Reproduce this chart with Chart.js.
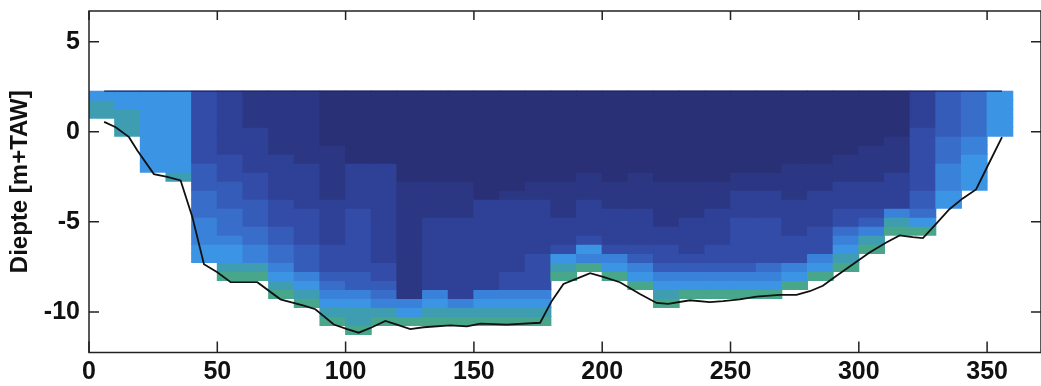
<!DOCTYPE html>
<html>
<head>
<meta charset="utf-8">
<script src="https://cdn.jsdelivr.net/npm/chart.js@4"></script>
<style>
  html, body { margin: 0; padding: 0; background: #fff; }
</style>
</head>
<body>
<canvas id="profile" width="1041" height="386"></canvas>
<script>
// midden van elke meetverticaal (afstand langs raai, m)
const verticalX = [5, 15, 25, 35, 45, 55, 65, 75, 85, 95, 105, 115, 125, 135, 145, 155, 165, 175,
  185, 195, 205, 215, 225, 235, 245, 255, 265, 275, 285, 295, 305, 315, 325, 335, 345, 355];

// grenzen van de dieptecellen (m+TAW)
const binEdges = [2.25, 1.75, 1.25, 0.75, 0.25, -0.25, -0.75, -1.25, -1.75, -2.25, -2.75, -3.25, -3.75,
  -4.25, -4.75, -5.25, -5.75, -6.25, -6.75, -7.25, -7.75, -8.25, -8.75, -9.25, -9.75, -10.25, -10.75, -11.25];

// snelheidsklasse per cel, van boven naar onder (0 = donkerst)
const speedClass = [
  '788', '77888', '777777777', '7777777778',
  '3333333344455566677', '222222233344455567789', '111122222333444556689',
  '11111112222233344556789', '111111112222233334446789', '00000011111122222333456789',
  '000000002222233333334467889', '00000000222222222223345689', '00000000001111111111111679',
  '00000000001111222222226789', '00000000001111222222222689', '00000000000022222222226789',
  '00000000000122222222336789', '00000000001122222233336789', '000000000011112223789',
  '00000000011122223769', '000000000011122223679', '0000000001111222234679',
  '000000000011111223346789', '00000000001111222234679', '00000000001112222334679',
  '00000000011222333334679', '00000000011222333335679', '0000000011112222333679',
  '000000001112222333679', '00000001112223356789', '000000111122234689',
  '0000011112222689', '2222333333344579', '4444455566677', '55555667777', '77777'
];

// bodemprofiel
const bedX = [5.9, 10.4, 15.6, 18.9, 25.3, 30.5, 35.7, 40.3, 44.8, 50, 55.2, 65.6, 74.6, 83.7, 88.2,
  95.4, 100.6, 105.1, 110.3, 115.5, 120, 125.2, 130.4, 140.8, 147.3, 152.5, 162.8, 175.8, 180.3,
  184.9, 190.1, 195.3, 200.4, 206.9, 214.7, 221.2, 225.7, 234.2, 241.9, 247.1, 253.6, 260.1, 269.2,
  275.7, 280.9, 286, 291.2, 297.7, 304.2, 310.7, 315.9, 321, 325, 330.2, 335.3, 340.5, 345.7, 350.2, 355.8];
const bedY = [0.55, 0.25, -0.3, -1.05, -2.35, -2.5, -2.7, -4.75, -7.35, -7.8, -8.35, -8.35, -9.3, -9.65, -9.85,
  -10.7, -10.95, -11.15, -10.85, -10.5, -10.7, -10.95, -10.85, -10.75, -10.8, -10.65, -10.7, -10.6, -9.4,
  -8.45, -8.15, -7.85, -8.05, -8.35, -9.0, -9.5, -9.55, -9.35, -9.45, -9.4, -9.3, -9.15, -9.05,
  -9.05, -8.85, -8.55, -8.0, -7.35, -6.7, -6.15, -5.75, -5.85, -5.9, -5.1, -4.3, -3.7, -3.2, -1.9, -0.3];

// waterlijn
const surfaceX = [5.9, 355.8];
const surfaceY = [2.25, 2.25];

const palette = ['#2a3076', '#2c3784', '#2f4196', '#324ca8', '#355cb9',
  '#386ec9', '#3a82d9', '#3b94e4', '#3f9db2', '#48a78a'];

const fontFam = '"Liberation Sans", Arial, Helvetica, sans-serif';

// één floating-bar dataset per diepterij
const cellSets = binEdges.slice(0, -1).map((top, r) => {
  const data = [];
  const colors = [];
  verticalX.forEach((x, c) => {
    if (r < speedClass[c].length) {
      data.push({ x: x, y: [binEdges[r + 1], top] });
      colors.push(palette[+speedClass[c][r]]);
    }
  });
  return {
    type: 'bar',
    data: data,
    backgroundColor: colors,
    borderWidth: 0,
    grouped: false,
    barPercentage: 1,
    categoryPercentage: 1,
    inflateAmount: 0.5,
    order: 2
  };
});

const frame = {
  id: 'frame',
  afterDatasetsDraw(chart) {
    const { ctx, chartArea: a, scales: { x, y } } = chart;
    ctx.save();
    ctx.strokeStyle = '#222';
    ctx.lineWidth = 1.5;
    ctx.strokeRect(a.left, a.top, a.right - a.left, a.bottom - a.top);
    ctx.beginPath();
    x.ticks.forEach(t => {
      const px = x.getPixelForValue(t.value);
      ctx.moveTo(px, a.bottom); ctx.lineTo(px, a.bottom - 11);
      ctx.moveTo(px, a.top); ctx.lineTo(px, a.top + 9);
    });
    y.ticks.forEach(t => {
      const py = y.getPixelForValue(t.value);
      ctx.moveTo(a.left, py); ctx.lineTo(a.left + 10, py);
      ctx.moveTo(a.right, py); ctx.lineTo(a.right - 10, py);
    });
    ctx.stroke();
    ctx.restore();
  }
};

new Chart(document.getElementById('profile'), {
  type: 'bar',
  data: {
    datasets: [
      ...cellSets,
      {
        type: 'line',
        data: surfaceX.map((x, i) => ({ x: x, y: surfaceY[i] })),
        borderColor: '#1f2363',
        borderWidth: 1.2,
        pointRadius: 0,
        order: 1
      },
      {
        type: 'line',
        data: bedX.map((x, i) => ({ x: x, y: bedY[i] })),
        borderColor: '#111',
        borderWidth: 1.8,
        pointRadius: 0,
        tension: 0,
        order: 0
      }
    ]
  },
  options: {
    responsive: false,
    animation: false,
    layout: { padding: { top: 11, right: 0, left: 0, bottom: 0 } },
    plugins: { legend: { display: false }, tooltip: { enabled: false } },
    scales: {
      x: {
        type: 'linear',
        min: 0,
        max: 371,
        offset: false,
        grid: { display: false, drawTicks: false },
        border: { display: false },
        ticks: { stepSize: 50, includeBounds: false, padding: 5, color: '#111',
          font: { family: fontFam, size: 25, weight: 'bold' } },
        afterFit: s => { s.height = 33.5; s.paddingLeft = 0; s.paddingRight = 0; }
      },
      y: {
        min: -12.25,
        max: 6.7,
        grid: { display: false, drawTicks: false },
        border: { display: false },
        ticks: { stepSize: 5, includeBounds: false, padding: 9, color: '#111',
          font: { family: fontFam, size: 25, weight: 'bold' } },
        title: { display: true, text: 'Diepte [m+TAW]', color: '#111', padding: { top: 6 },
          font: { family: fontFam, size: 24, weight: 'bold' } },
        afterFit: s => { s.width = 89; s.paddingTop = 0; s.paddingBottom = 0; }
      }
    }
  },
  plugins: [frame]
});
</script>
</body>
</html>
